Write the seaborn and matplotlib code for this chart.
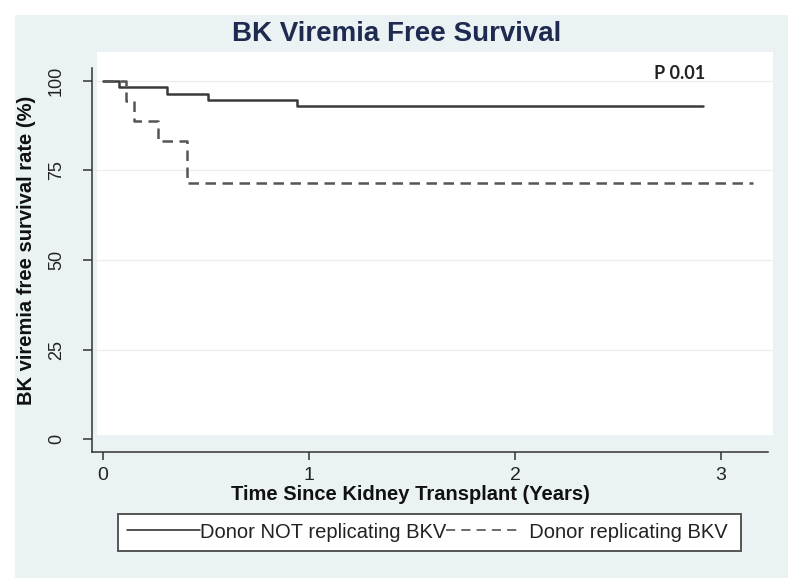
import numpy as np
import pandas as pd
import matplotlib
matplotlib.use("Agg")
import matplotlib.pyplot as plt
from matplotlib.patches import Rectangle
from matplotlib.lines import Line2D
import seaborn as sns

# Kaplan-Meier steps (years, % free of BK viremia)
years_not_rep = [0, 0.079, 0.309, 0.508, 0.940, 2.91]
surv_not_rep = [100, 98.2, 96.5, 94.7, 93.0, 93.0]
years_rep = [0, 0.114, 0.152, 0.269, 0.406, 3.155]
surv_rep = [100, 94.4, 88.9, 83.3, 71.4, 71.4]
group_labels = ["Donor NOT replicating BKV", "Donor replicating BKV"]
x_ticks = [0, 1, 2, 3]
y_ticks = [0, 25, 50, 75, 100]
p_value_text = "P 0.01"

df = pd.concat([
    pd.DataFrame({"Years": years_not_rep, "Survival": surv_not_rep, "Group": group_labels[0]}),
    pd.DataFrame({"Years": years_rep, "Survival": surv_rep, "Group": group_labels[1]}),
], ignore_index=True)

sns.set_style("white")
plt.rcParams["font.family"] = ["Liberation Sans", "DejaVu Sans"]

W, H = 800, 588
def fx(px):
    return px / W
def fy(py):
    return 1 - py / H

fig = plt.figure(figsize=(8, 5.88), dpi=100)
fig.patch.set_facecolor("white")

# outer (graph region) and inner (plot region) backgrounds
fig.add_artist(Rectangle((fx(15), fy(578)), 773 / W, 563 / H, transform=fig.transFigure,
                         facecolor="#EAF2F3", edgecolor="none", zorder=-3))
fig.add_artist(Rectangle((fx(97), fy(435)), 676 / W, 383 / H, transform=fig.transFigure,
                         facecolor="white", edgecolor="none", zorder=-2))

ax = fig.add_axes([fx(92), fy(452), 681 / W, 400 / H])
ax.set_facecolor("none")

line_colors = {group_labels[0]: "#3a3a3a", group_labels[1]: "#555555"}
sns.lineplot(data=df, x="Years", y="Survival", hue="Group", style="Group",
             palette=line_colors, dashes={group_labels[0]: "", group_labels[1]: (4.2, 2.6)},
             drawstyle="steps-post", estimator=None, sort=False, linewidth=1.8,
             legend=False, ax=ax)

ax.set_xlim(-0.053, 3.252)
ax.set_ylim(-3.63, 108.1)
ax.set_xticks(x_ticks)
ax.set_yticks(y_ticks)
ax.set_xlabel("")
ax.set_ylabel("")

for s in ["top", "right"]:
    ax.spines[s].set_visible(False)
for s in ["left", "bottom"]:
    ax.spines[s].set_color("#333333")
    ax.spines[s].set_linewidth(1.1)
ax.spines["left"].set_bounds(-3.63, 103.6)
ax.spines["bottom"].set_bounds(-0.053, 3.23)

ax.yaxis.grid(True, color="#ECEEEE", linewidth=0.9)
ax.get_ygridlines()[0].set_visible(False)
ax.set_axisbelow(True)

ax.tick_params(axis="x", length=6, width=1.1, color="#333333", pad=5, labelsize=14,
               labelcolor="#222222", bottom=True)
ax.tick_params(axis="y", length=6.5, width=1.1, color="#333333", pad=13, labelsize=13,
               labelcolor="#222222", labelrotation=90, left=True)
for lbl in ax.get_yticklabels():
    lbl.set_va("center")

fig.text(fx(397), fy(34), "BK Viremia Free Survival", ha="center", va="center",
         fontsize=20, fontweight="bold", color="#1E2A50")
fig.text(fx(27), fy(250), "BK viremia free survival rate (%)", ha="center", va="center",
         rotation=90, fontsize=14.5, fontweight="bold", color="#111111")
fig.text(fx(410), fy(495), "Time Since Kidney Transplant (Years)", ha="center", va="center",
         fontsize=14.5, fontweight="bold", color="#111111")
ax.text(2.80, 102.0, p_value_text, ha="center", va="center", fontsize=13,
        fontweight="bold", color="#222222", family=["Lato", "DejaVu Sans"])

# legend box with the keys laid out inside it
fig.add_artist(Rectangle((fx(118), fy(551)), 623 / W, 37 / H, transform=fig.transFigure,
                         facecolor="white", edgecolor="#555555", linewidth=1.4, zorder=1))
handles = [Line2D([], [], color="#222222", linewidth=1.1),
           Line2D([], [], color="#444444", linewidth=1.1, dashes=(6, 4))]
leg = fig.legend(handles, [group_labels[0], "  " + group_labels[1]], loc="center left",
                 ncol=2, bbox_to_anchor=(fx(127), fy(532)), frameon=False,
                 fontsize=14.5, handlelength=3.6, handletextpad=0.0, columnspacing=0.0,
                 borderaxespad=0.0, borderpad=0.0)
leg.set_zorder(2)
for t in leg.get_texts():
    t.set_color("#222222")

fig.savefig("out.png", dpi=100)
